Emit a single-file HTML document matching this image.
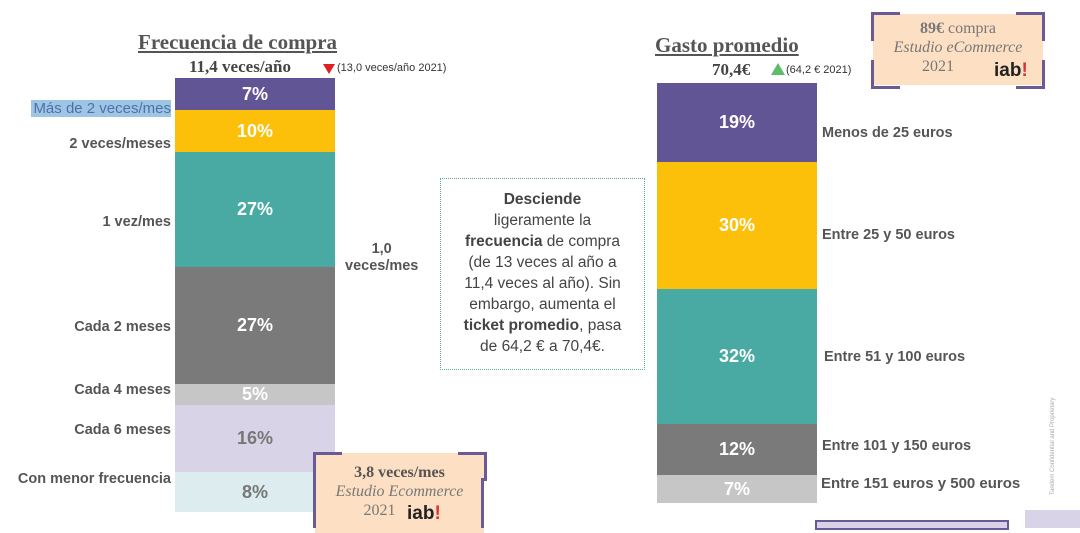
<!DOCTYPE html>
<html><head><meta charset="utf-8"><style>
body{margin:0;width:1080px;height:528px;background:#fff;position:relative;overflow:hidden;font-family:"Liberation Sans",sans-serif;color:#444}
.a{position:absolute}
.seg{position:absolute;display:flex;align-items:center;justify-content:center;color:#fff;font-size:18px;font-weight:bold}
.lab{position:absolute;font-size:14.5px;font-weight:bold;color:#555;white-space:nowrap}
.l{right:909px;text-align:right}
.serif{font-family:"Liberation Serif",serif}
.box{position:absolute;background:#fde0c4;text-align:center;font-family:"Liberation Serif",serif;color:#777;font-size:16px;line-height:19px}
.c{position:absolute;border-color:#6a5a96;border-style:solid;width:26px;height:26px}
</style></head><body>
<div class="a serif" style="left:138px;top:30px;font-size:21px;font-weight:bold;text-decoration:underline;color:#555">Frecuencia de compra</div>
<div class="a serif" style="left:189px;top:57px;font-size:17px;font-weight:bold;color:#444">11,4 veces/año</div>
<div class="a" style="left:323px;top:64px;width:0;height:0;border-left:6px solid transparent;border-right:6px solid transparent;border-top:10px solid #e02020"></div>
<div class="a" style="left:337px;top:62px;font-size:11px;color:#333">(13,0 veces/año 2021)</div>

<div class="seg" style="left:175px;top:78px;width:160px;height:32px;background:#615596">7%</div>
<div class="seg" style="left:175px;top:110px;width:160px;height:42px;background:#fcc00a">10%</div>
<div class="seg" style="left:175px;top:152px;width:160px;height:115px;background:#48aaa2">27%</div>
<div class="seg" style="left:175px;top:267px;width:160px;height:117px;background:#7a7a7a">27%</div>
<div class="seg" style="left:175px;top:384px;width:160px;height:21px;background:#c6c6c6">5%</div>
<div class="seg" style="left:175px;top:405px;width:160px;height:67px;background:#d9d3e8;color:#777">16%</div>
<div class="seg" style="left:175px;top:472px;width:160px;height:40px;background:#dcecef;color:#777">8%</div>

<div class="lab l" style="top:100px;background:#9ec6e4;color:#4a72a8;font-weight:normal;font-size:15px;padding-left:2px">Más de 2 veces/mes</div>
<div class="lab l" style="top:136px">2 veces/meses</div>
<div class="lab l" style="top:214px">1 vez/mes</div>
<div class="lab l" style="top:319px">Cada 2 meses</div>
<div class="lab l" style="top:382px">Cada 4 meses</div>
<div class="lab l" style="top:422px">Cada 6 meses</div>
<div class="lab l" style="top:471px">Con menor frecuencia</div>
<div class="lab" style="left:345px;top:241px;text-align:center;line-height:17px">1,0<br>veces/mes</div>

<div class="a" style="left:440px;top:178px;width:205px;height:192px;border:1px dotted #5aa9a0;box-sizing:border-box;text-align:center;font-size:15.5px;line-height:21px;color:#444;padding-top:10px">
<b>Desciende</b><br>ligeramente la<br><b>frecuencia</b> de compra<br>(de 13 veces al año a<br>11,4 veces al año). Sin<br>embargo, aumenta el<br><b>ticket promedio</b>, pasa<br>de 64,2 € a 70,4€.</div>

<div class="a serif" style="left:655px;top:33px;font-size:21px;font-weight:bold;text-decoration:underline;color:#555">Gasto promedio</div>
<div class="a serif" style="left:712px;top:60px;font-size:17px;font-weight:bold;color:#444">70,4€</div>
<div class="a" style="left:771px;top:63px;width:0;height:0;border-left:7px solid transparent;border-right:7px solid transparent;border-bottom:12px solid #5dbd6a"></div>
<div class="a" style="left:786px;top:64px;font-size:11px;color:#333">(64,2 € 2021)</div>

<div class="seg" style="left:657px;top:83px;width:160px;height:79px;background:#615596">19%</div>
<div class="seg" style="left:657px;top:162px;width:160px;height:127px;background:#fcc00a">30%</div>
<div class="seg" style="left:657px;top:289px;width:160px;height:135px;background:#48aaa2">32%</div>
<div class="seg" style="left:657px;top:424px;width:160px;height:51px;background:#7a7a7a">12%</div>
<div class="seg" style="left:657px;top:475px;width:160px;height:28px;background:#c6c6c6">7%</div>
<div class="lab" style="left:822px;top:125px">Menos de 25 euros</div>
<div class="lab" style="left:822px;top:227px">Entre 25 y 50 euros</div>
<div class="lab" style="left:824px;top:349px">Entre 51 y 100 euros</div>
<div class="lab" style="left:822px;top:438px">Entre 101 y 150 euros</div>
<div class="lab" style="left:821px;top:475px;font-size:15px">Entre 151 euros y 500 euros</div>
<div class="a" style="left:1050px;font-size:6px;color:#aaa;transform:rotate(-90deg);transform-origin:left top;white-space:nowrap;top:495px">Tandem Confidential and Proprietary</div>

<div class="box" style="left:873px;top:14px;width:170px;height:71px;padding-top:5px;box-sizing:border-box"><b>89€</b> compra<br><i>Estudio eCommerce</i><br><span style="margin-left:-40px">2021</span></div>
<div class="a" style="left:994px;top:60px;font-size:19px;font-weight:bold;color:#222">iab<span style="color:#d33">!</span></div>
<div class="c" style="left:871px;top:12px;border-width:3px 0 0 3px"></div>
<div class="c" style="left:1016px;top:12px;border-width:3px 3px 0 0"></div>
<div class="c" style="left:871px;top:60px;border-width:0 0 3px 3px"></div>
<div class="c" style="left:1016px;top:60px;border-width:0 3px 3px 0"></div>

<div class="box" style="left:315px;top:453px;width:169px;height:80px;padding-top:10px;box-sizing:border-box"><b style="color:#555">3,8 veces/mes</b><br><i>Estudio Ecommerce</i><br><span style="margin-left:-40px">2021</span></div>
<div class="a" style="left:407px;top:503px;font-size:19px;font-weight:bold;color:#222">iab<span style="color:#d33">!</span></div>
<div class="c" style="left:313px;top:452px;border-width:3px 0 0 3px"></div>
<div class="c" style="left:458px;top:452px;border-width:3px 3px 0 0"></div>
<div class="a" style="left:313px;top:478px;width:0;height:50px;border-left:3px solid #6a5a96"></div>
<div class="a" style="left:481px;top:478px;width:0;height:50px;border-left:3px solid #6a5a96"></div>

<div class="a" style="left:815px;top:520px;width:194px;height:10px;background:#d9d3e8;border:2px solid #6a5a96;box-sizing:border-box"></div>
<div class="a" style="left:1025px;top:510px;width:55px;height:18px;background:#d9d3e8"></div>
</body></html>
